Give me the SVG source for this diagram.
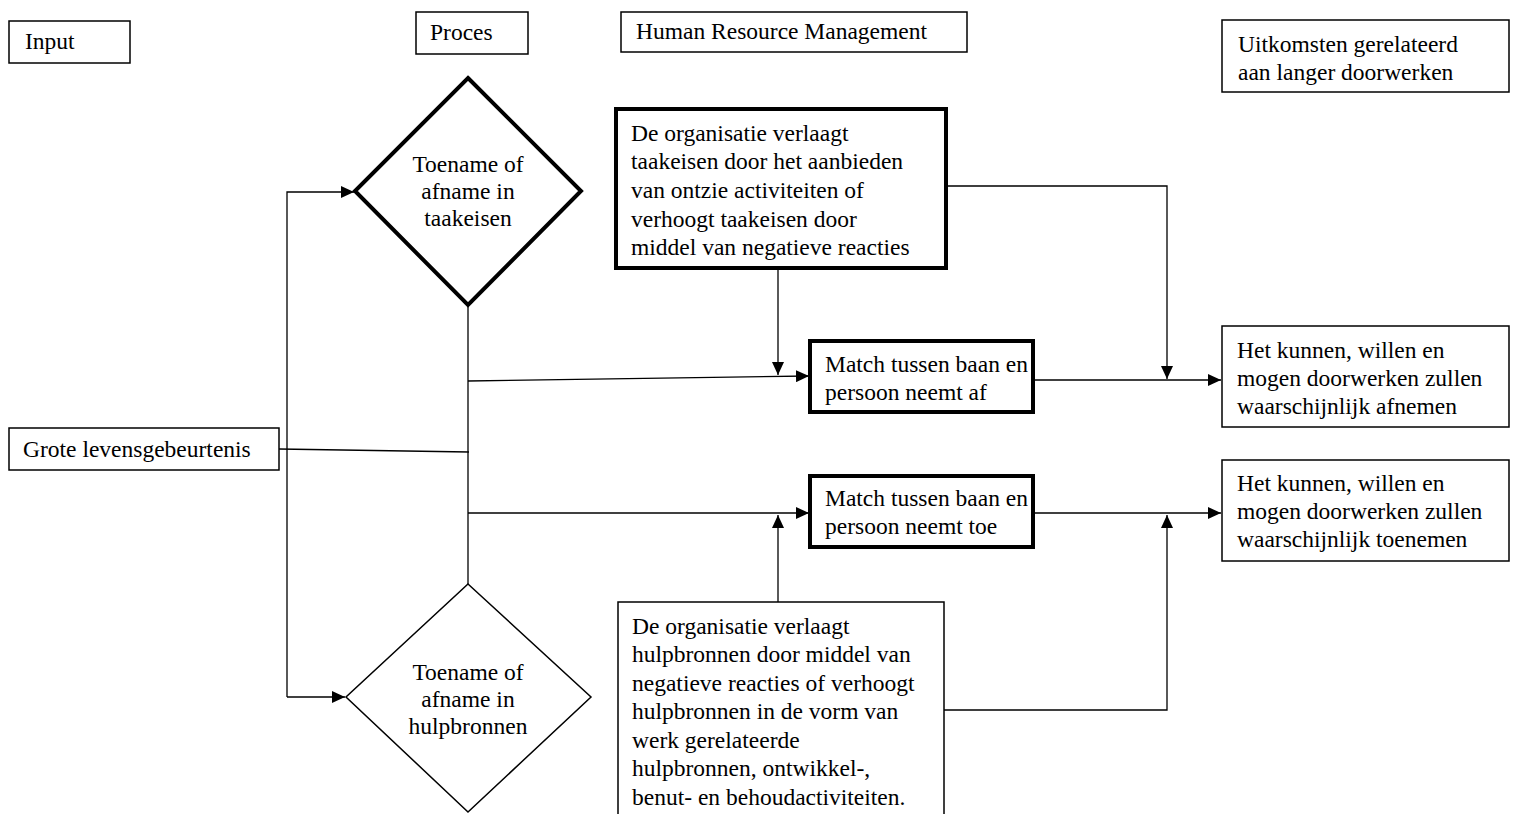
<svg xmlns="http://www.w3.org/2000/svg" width="1514" height="814" viewBox="0 0 1514 814">
<style>
text{font-family:"Liberation Serif","Times New Roman",serif;font-size:23.5px;fill:#000}
.thin{fill:#fff;stroke:#000;stroke-width:1.5}
.thick{fill:#fff;stroke:#000;stroke-width:4}
.c{text-anchor:middle}
.ln{fill:none;stroke:#000;stroke-width:1.3}
</style>
<defs>
<marker id="ah" markerUnits="userSpaceOnUse" markerWidth="14" markerHeight="12" refX="13" refY="6" orient="auto">
<path d="M0,0 L13,6 L0,12 Z" fill="#000"/>
</marker>
</defs>
<g id="connectors">
<path class="ln" d="M287,697 L287,192 L354,192" marker-end="url(#ah)"/>
<path class="ln" d="M287,697 L345,697" marker-end="url(#ah)"/>
<path class="ln" d="M279,449 L469,452"/>
<path class="ln" d="M468,305 L468,584"/>
<path class="ln" d="M468,381 L809,376" marker-end="url(#ah)"/>
<path class="ln" d="M468,513 L809,513" marker-end="url(#ah)"/>
<path class="ln" d="M778,268 L778,375" marker-end="url(#ah)"/>
<path class="ln" d="M946,186 L1167,186 L1167,379" marker-end="url(#ah)"/>
<path class="ln" d="M1033,380 L1221,380" marker-end="url(#ah)"/>
<path class="ln" d="M1033,513 L1221,513" marker-end="url(#ah)"/>
<path class="ln" d="M778,602 L778,515" marker-end="url(#ah)"/>
<path class="ln" d="M944,710 L1167,710 L1167,515" marker-end="url(#ah)"/>
</g>
<g id="input"><rect class="thin" x="9" y="21" width="121" height="42"/><text x="25" y="49">Input</text></g>
<g id="proces"><rect class="thin" x="416" y="12" width="112" height="42"/><text x="430" y="40">Proces</text></g>
<g id="hrm"><rect class="thin" x="621" y="12" width="346" height="40"/><text x="636" y="39">Human Resource Management</text></g>
<g id="uitkomsten"><rect class="thin" x="1222" y="20" width="287" height="72"/><text x="1238" y="52">Uitkomsten gerelateerd</text><text x="1238" y="80">aan langer doorwerken</text></g>
<g id="diamond-taakeisen"><polygon class="thick" points="468,78 581,191 468,305 355,191"/>
<text class="c" x="468" y="172">Toename of</text><text class="c" x="468" y="199">afname in</text><text class="c" x="468" y="226">taakeisen</text></g>
<g id="diamond-hulpbronnen"><polygon class="thin" points="468,584 591,697 468,812 346,697"/>
<text class="c" x="468" y="680">Toename of</text><text class="c" x="468" y="707">afname in</text><text class="c" x="468" y="734">hulpbronnen</text></g>
<g id="grote"><rect class="thin" x="9" y="428" width="270" height="42"/><text x="23" y="457">Grote levensgebeurtenis</text></g>
<g id="hrm-taakeisen"><rect class="thick" x="616" y="109" width="330" height="159"/>
<text x="631" y="141">De organisatie verlaagt</text>
<text x="631" y="169">taakeisen door het aanbieden</text>
<text x="631" y="198">van ontzie activiteiten of</text>
<text x="631" y="227">verhoogt taakeisen door</text>
<text x="631" y="255">middel van negatieve reacties</text></g>
<g id="match-af"><rect class="thick" x="810" y="341" width="223" height="71"/><text x="825" y="372">Match tussen baan en</text><text x="825" y="400">persoon neemt af</text></g>
<g id="match-toe"><rect class="thick" x="810" y="476" width="223" height="71"/><text x="825" y="506">Match tussen baan en</text><text x="825" y="534">persoon neemt toe</text></g>
<g id="outcome-af"><rect class="thin" x="1222" y="326" width="287" height="101"/>
<text x="1237" y="358">Het kunnen, willen en</text><text x="1237" y="386">mogen doorwerken zullen</text><text x="1237" y="414">waarschijnlijk afnemen</text></g>
<g id="outcome-toe"><rect class="thin" x="1222" y="460" width="287" height="101"/>
<text x="1237" y="491">Het kunnen, willen en</text><text x="1237" y="519">mogen doorwerken zullen</text><text x="1237" y="547">waarschijnlijk toenemen</text></g>
<g id="hrm-hulpbronnen"><rect class="thin" x="618" y="602" width="326" height="230"/>
<text x="632" y="634">De organisatie verlaagt</text>
<text x="632" y="662">hulpbronnen door middel van</text>
<text x="632" y="691">negatieve reacties of verhoogt</text>
<text x="632" y="719">hulpbronnen in de vorm van</text>
<text x="632" y="748">werk gerelateerde</text>
<text x="632" y="776">hulpbronnen, ontwikkel-,</text>
<text x="632" y="805">benut- en behoudactiviteiten.</text></g>
</svg>
